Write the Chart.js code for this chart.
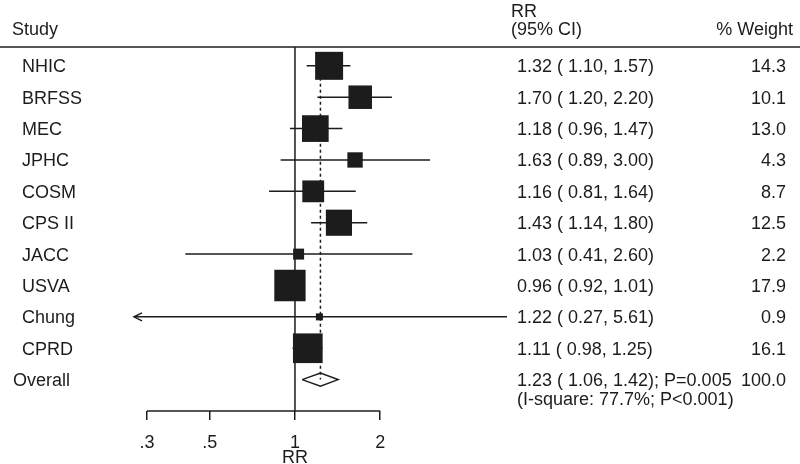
<!DOCTYPE html>
<html>
<head>
<meta charset="utf-8">
<script src="https://cdn.jsdelivr.net/npm/chart.js@4.4.0/dist/chart.umd.min.js"></script>
<style>
  html, body { margin: 0; padding: 0; background: #fff; }
</style>
</head>
<body>
<canvas id="forest" width="800" height="464"></canvas>
<script>
// data
const studies = ['NHIC', 'BRFSS', 'MEC', 'JPHC', 'COSM', 'CPS II', 'JACC', 'USVA', 'Chung', 'CPRD'];
const rr      = [1.32, 1.70, 1.18, 1.63, 1.16, 1.43, 1.03, 0.96, 1.22, 1.11];
const lower   = [1.10, 1.20, 0.96, 0.89, 0.81, 1.14, 0.41, 0.92, 0.27, 0.98];
const upper   = [1.57, 2.20, 1.47, 3.00, 1.64, 1.80, 2.60, 1.01, 5.61, 1.25];
const weights = [14.3, 10.1, 13.0, 4.3, 8.7, 12.5, 2.2, 17.9, 0.9, 16.1];
const overall = [1.23, 1.06, 1.42];   // estimate, lower, upper
const overallText = ['1.23 ( 1.06, 1.42); P=0.005', '(I-square: 77.7%; P<0.001)'];
const overallWeight = '100.0';
const tickValues = [0.3, 0.5, 1, 2];
const tickLabels = ['.3', '.5', '1', '2'];

const ink = '#1c1c1c';
const fontFamily = "'Liberation Sans', Arial, Helvetica, sans-serif";
const textFont = '18px ' + fontFamily;
const rowOverall = studies.length;

Chart.defaults.font.family = fontFamily;

// CI segments, broken apart by NaN points
const ciData = [];
studies.forEach((s, i) => {
    ciData.push({x: lower[i], y: i}, {x: upper[i], y: i}, {x: NaN, y: NaN});
});

const diamondHalf = 0.21;
const diamond = [
    {x: overall[1], y: rowOverall},
    {x: overall[0], y: rowOverall - diamondHalf},
    {x: overall[2], y: rowOverall},
    {x: overall[0], y: rowOverall + diamondHalf},
    {x: overall[1], y: rowOverall}
];

const tablePlugin = {
    id: 'forestTable',
    afterDraw(chart) {
        const {ctx, chartArea, scales: {x, y}} = chart;
        ctx.save();
        ctx.strokeStyle = ink;
        ctx.fillStyle = ink;
        ctx.lineWidth = 1.5;

        // rule under the header
        ctx.beginPath();
        ctx.moveTo(0, chartArea.top);
        ctx.lineTo(chart.width, chartArea.top);
        ctx.stroke();

        // x axis line, only across the labelled ticks
        ctx.beginPath();
        ctx.moveTo(x.getPixelForValue(tickValues[0]), chartArea.bottom);
        ctx.lineTo(x.getPixelForValue(tickValues[tickValues.length - 1]), chartArea.bottom);
        ctx.stroke();

        // arrow where a CI runs off the left edge
        studies.forEach((s, i) => {
            if (lower[i] <= x.min) {
                const px = x.getPixelForValue(x.min);
                const py = y.getPixelForValue(i);
                ctx.beginPath();
                ctx.moveTo(px + 8, py - 4);
                ctx.lineTo(px, py);
                ctx.lineTo(px + 8, py + 4);
                ctx.stroke();
            }
        });

        ctx.font = textFont;
        ctx.textBaseline = 'alphabetic';

        // header
        ctx.textAlign = 'left';
        ctx.fillText('Study', 12, 35);
        ctx.fillText('RR', 511, 17);
        ctx.fillText('(95% CI)', 511, 35);
        ctx.textAlign = 'right';
        ctx.fillText('% Weight', 793, 35);

        // rows
        studies.forEach((s, i) => {
            const py = y.getPixelForValue(i) + 6.5;
            ctx.textAlign = 'left';
            ctx.fillText(s, 22, py);
            ctx.fillText(rr[i].toFixed(2) + ' ( ' + lower[i].toFixed(2) + ', ' + upper[i].toFixed(2) + ')', 517, py);
            ctx.textAlign = 'right';
            ctx.fillText(weights[i].toFixed(1), 786, py);
        });

        const po = y.getPixelForValue(rowOverall) + 6.5;
        ctx.textAlign = 'left';
        ctx.fillText('Overall', 13, po);
        ctx.fillText(overallText[0], 517, po);
        ctx.fillText(overallText[1], 517, po + 19);
        ctx.textAlign = 'right';
        ctx.fillText(overallWeight, 786, po);

        // axis title
        ctx.textAlign = 'center';
        ctx.fillText('RR', x.getPixelForValue(1), 463);
        ctx.restore();
    }
};

new Chart(document.getElementById('forest'), {
    type: 'scatter',
    data: {
        datasets: [
            {
                label: 'overall line',
                data: [{x: overall[0], y: 0}, {x: overall[0], y: rowOverall}],
                showLine: true,
                borderColor: ink,
                borderWidth: 1.5,
                borderDash: [3, 3],
                pointRadius: 0,
                order: 0
            },
            {
                label: 'studies',
                data: rr.map((v, i) => ({x: v, y: i})),
                pointStyle: 'rect',
                pointRadius: c => Math.sqrt(weights[c.dataIndex]) * 7.4 / Math.SQRT2,
                backgroundColor: ink,
                borderColor: ink,
                borderWidth: 0,
                order: 1
            },
            {
                label: 'overall',
                data: diamond,
                showLine: true,
                fill: 'shape',
                backgroundColor: '#fff',
                borderColor: ink,
                borderWidth: 1.5,
                pointRadius: 0,
                order: 2
            },
            {
                label: 'CI',
                data: ciData,
                showLine: true,
                spanGaps: false,
                borderColor: ink,
                borderWidth: 1.5,
                pointRadius: 0,
                order: 3
            },
            {
                label: 'null',
                data: [{x: 1, y: -0.6}, {x: 1, y: 11}],
                showLine: true,
                borderColor: ink,
                borderWidth: 1.5,
                pointRadius: 0,
                order: 4
            }
        ]
    },
    options: {
        responsive: false,
        animation: false,
        events: [],
        layout: {
            padding: {left: 134, right: 293, top: 47, bottom: 0}
        },
        plugins: {
            legend: {display: false},
            tooltip: {enabled: false}
        },
        scales: {
            x: {
                type: 'logarithmic',
                min: Math.min(...lower),
                max: Math.max(...upper),
                bounds: 'data',
                afterFit: s => { s.height = 53; },
                afterBuildTicks: s => { s.ticks = tickValues.map(v => ({value: v})); },
                ticks: {
                    callback: (v, i) => tickLabels[i],
                    color: ink,
                    font: {size: 18},
                    padding: 12,
                    maxRotation: 0,
                    autoSkip: false
                },
                grid: {
                    drawOnChartArea: false,
                    drawTicks: true,
                    tickLength: 9,
                    color: ink,
                    lineWidth: 1.5
                },
                border: {display: false}
            },
            y: {
                type: 'linear',
                min: -0.6,
                max: 11,
                reverse: true,
                display: false
            }
        }
    },
    plugins: [tablePlugin]
});
</script>
</body>
</html>
